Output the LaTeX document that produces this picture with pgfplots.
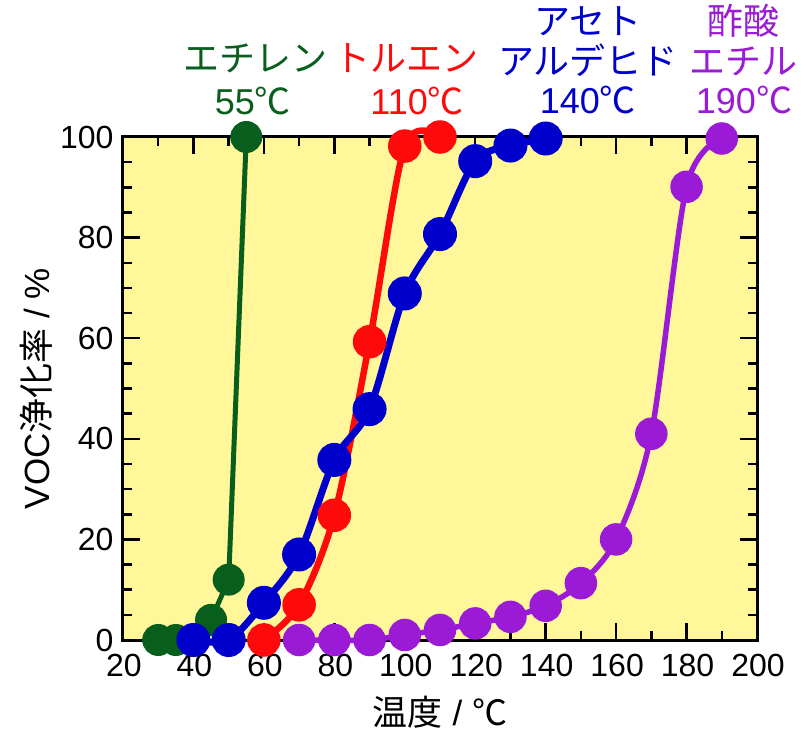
\documentclass[border=0pt]{standalone}
\usepackage{pgfplots}
\pgfplotsset{compat=1.18}
\usepackage{fontspec}
\setmainfont{Liberation Sans}
\newfontfamily\jp{Noto Sans CJK JP}
\definecolor{cgreen}{RGB}{8,94,28}
\definecolor{cred}{RGB}{255,10,10}
\definecolor{cblue}{RGB}{0,0,204}
\definecolor{cpurple}{RGB}{154,26,214}
\definecolor{cbg}{RGB}{255,247,153}
\begin{document}
\begin{tikzpicture}
\begin{axis}[
  scale only axis, width=634pt, height=503pt,
  xmin=20, xmax=200, ymin=0, ymax=100,
  xtick={20,40,...,200}, ytick={0,20,...,100},
  minor x tick num=1, minor y tick num=3,
  tick align=inside,
  major tick length=17pt, minor tick length=9pt,
  every tick/.style={black, line width=2.5pt},
  axis line style={line width=3pt, black},
  axis background/.style={fill=cbg},
  clip=false,
  /pgf/number format/assume math mode=true,
  ticklabel style={font=\fontsize{32}{38}\selectfont},
  xticklabel style={yshift=-11pt, xshift=1pt},
  yticklabel style={xshift=-6pt},
  ylabel={VOC{\jp 浄化率} / \%},
  ylabel style={at={(axis description cs:0,0.5)}, anchor=south, inner sep=0pt, yshift=70pt, font=\fontsize{35}{42}\selectfont},
  xlabel={{\jp 温度} / {\jp ℃}},
  xlabel style={at={(axis description cs:0.5,0)}, anchor=base, inner sep=0pt, yshift=-85pt, font=\fontsize{35}{42}\selectfont},
]
\addplot[cgreen, line width=5pt, mark=*, mark size=13.5pt, mark options={draw=none, fill=cgreen}]
  coordinates {(30,0)(35,0)(45,4)(50,12)(55,100)};
\addplot[cred, line width=6.5pt, smooth, mark=*, mark size=13.5pt, mark options={draw=none, fill=cred}]
  coordinates {(60,0)(70,7)(80,24.8)(90,59.3)(100,98.2)(110,100)};
\addplot[cblue, line width=7pt, smooth, mark=*, mark size=13.5pt, mark options={draw=none, fill=cblue}]
  coordinates {(40,0)(50,0)(60,7.4)(70,17)(80,35.8)(90,45.9)(100,68.9)(110,80.7)(120,95.2)(130,98.3)(140,99.7)};
\addplot[cpurple, line width=5.5pt, smooth, mark=*, mark size=13.5pt, mark options={draw=none, fill=cpurple}]
  coordinates {(70,0)(80,0)(90,0)(100,1)(110,2)(120,3.3)(130,4.6)(140,6.8)(150,11.3)(160,20)(170,41)(180,90.1)(190,99.7)};

\coordinate (SW) at (rel axis cs:0,0);
\coordinate (NE) at (rel axis cs:1,1);

\begin{scope}[every node/.style={anchor=base, inner sep=0pt, font=\fontsize{36}{42}\selectfont}]
\node[text=cgreen] at (axis cs:57.5,100) [yshift=65pt] {\jp エチレン};
\node[text=cgreen] at (axis cs:56.9,100) [yshift=22pt] {55{\jp ℃}};
\node[text=cred] at (axis cs:100.6,100) [yshift=65pt] {\jp トルエン};
\node[text=cred] at (axis cs:103.5,100) [yshift=22pt] {110{\jp ℃}};
\node[text=cblue] at (axis cs:152,100) [yshift=102pt] {\jp アセト};
\node[text=cblue] at (axis cs:152,100) [yshift=62pt] {\jp アルデヒド};
\node[text=cblue] at (axis cs:152,100) [yshift=23pt] {140{\jp ℃}};
\node[text=cpurple] at (axis cs:196.3,100) [yshift=102pt] {\jp 酢酸};
\node[text=cpurple] at (axis cs:196.3,100) [yshift=62pt] {\jp エチル};
\node[text=cpurple] at (axis cs:196.3,100) [yshift=23pt] {190{\jp ℃}};
\end{scope}
\end{axis}
\path ([shift={(-123pt,-92pt)}]SW) rectangle ([shift={(51pt,137pt)}]NE);
\end{tikzpicture}
\end{document}
